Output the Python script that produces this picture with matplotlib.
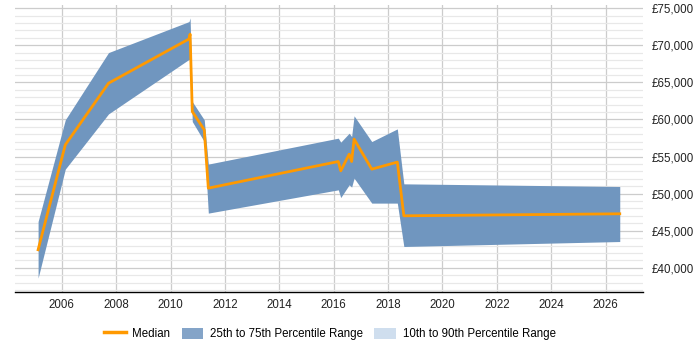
import matplotlib
matplotlib.use("Agg")
import matplotlib.pyplot as plt
from matplotlib.lines import Line2D
from matplotlib.patches import Patch
from matplotlib.ticker import MultipleLocator, FuncFormatter

plt.rcParams['font.family'] = ['Liberation Sans', 'DejaVu Sans']

# data
years = [2005.13, 2006.13, 2007.72, 2010.68, 2010.72, 2010.80, 2011.24, 2011.39,
         2016.17, 2016.26, 2016.57, 2016.66, 2016.75, 2017.40, 2018.34, 2018.58, 2026.52]
median = [42430, 56580, 64890, 70860, 71500, 61070, 58600, 50740,
          54330, 53070, 55320, 54330, 57350, 53300, 54250, 47010, 47280]
p75 = [46240, 59950, 69020, 73200, 73700, 62410, 59950, 53980,
       57480, 56940, 58150, 57700, 60490, 57020, 58730, 51320, 50960]
p25 = [38610, 53300, 60750, 68100, 68000, 59720, 57020, 47370,
       50510, 49470, 51190, 50880, 52090, 48720, 48720, 42870, 43540]

band_col = '#7096bf'
fig = plt.figure(figsize=(7, 3.5), dpi=100)
ax = fig.add_axes([0.0214, 0.165, 0.8966, 0.821])

ax.fill_between(years, p25, p75, color=band_col, lw=0, zorder=2)
ax.plot(years, median, color='#ff9900', lw=2, zorder=3)

ax.set_xlim(2004.28, 2027.36)
ax.set_ylim(36700, 75450)
ax.xaxis.set_major_locator(MultipleLocator(2))
ax.yaxis.set_major_locator(MultipleLocator(5000))
ax.yaxis.set_minor_locator(MultipleLocator(1000))
ax.yaxis.set_major_formatter(FuncFormatter(lambda v, p: '£{:,.0f}'.format(v)))
ax.yaxis.tick_right()
ax.tick_params(axis='both', length=0, labelsize=8.3, colors='#222222')
ax.tick_params(axis='y', pad=6.5)
ax.tick_params(axis='x', pad=5)
ax.tick_params(axis='y', which='minor', length=0)

ax.grid(axis='x', which='major', color='#cccccc', lw=0.9, zorder=0)
ax.grid(axis='y', which='major', color='#cccccc', lw=0.9, zorder=0)
ax.grid(axis='y', which='minor', color='#e8e8e8', lw=0.9, zorder=0)
ax.set_axisbelow(True)
for s in ['left', 'right', 'top']:
    ax.spines[s].set_visible(False)
ax.spines['bottom'].set_color('#000000')
ax.spines['bottom'].set_linewidth(1)

handles = [Line2D([0], [0], color='#ff9900', lw=2.5),
           Patch(facecolor='#84a4c8', edgecolor='none'),
           Patch(facecolor='#cfdeee', edgecolor='none')]
labels = ['Median', '25th to 75th Percentile Range', '10th to 90th Percentile Range']
fig.legend(handles, labels, loc='center', bbox_to_anchor=(0.471, 0.046), ncol=3,
           frameon=False, fontsize=8.3, handlelength=1.9, handleheight=1.1,
           columnspacing=1.0, handletextpad=0.55)

fig.savefig('out.png', dpi=100)
